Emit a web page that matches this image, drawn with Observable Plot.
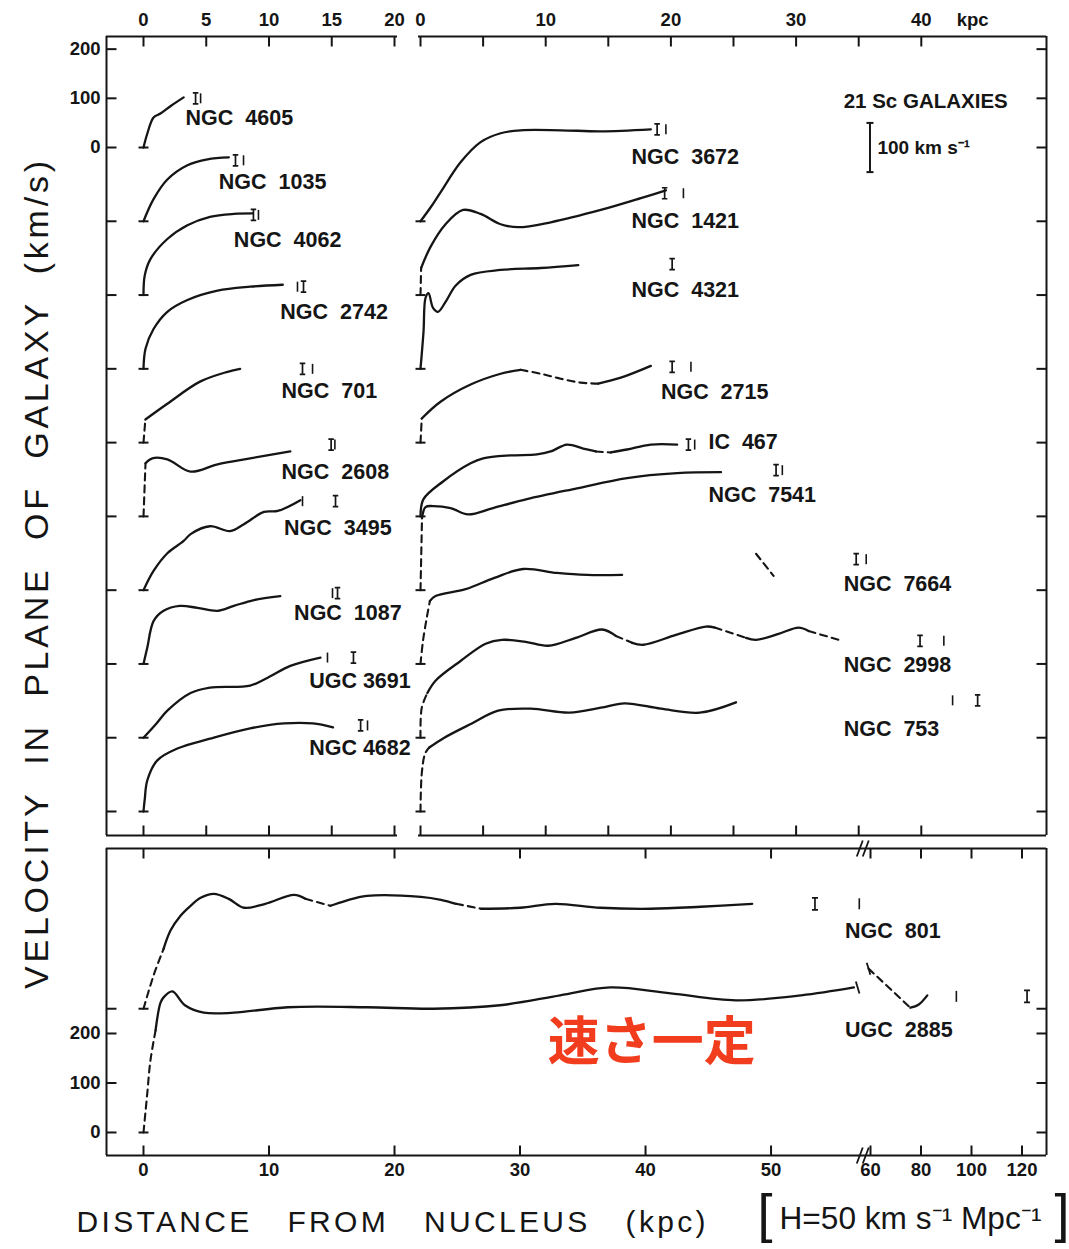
<!DOCTYPE html>
<html><head><meta charset="utf-8">
<script src="https://cdn.jsdelivr.net/npm/d3@7"></script>
<script src="https://cdn.jsdelivr.net/npm/@observablehq/plot@0.6"></script>
<style>
html,body{margin:0;padding:0;background:#fff;}
#fig{position:relative;width:1069px;height:1249px;overflow:hidden;background:#fff;}
#fig svg{position:absolute !important;left:0;top:0;background:transparent !important;overflow:visible;max-width:none !important;}
</style></head><body><div id="fig"></div>
<script>
// ================= DATA =================
// Top panels: each rotation curve is drawn from its own zero line; zero lines are 150 km/s apart.
const leftNames  = ["NGC  4605","NGC  1035","NGC  4062","NGC  2742","NGC  701","NGC  2608","NGC  3495","NGC  1087","UGC 3691","NGC 4682"];
const leftZero   = [0,-150,-300,-450,-600,-750,-900,-1050,-1200,-1350];
const rightNames = ["NGC  3672","NGC  1421","NGC  4321","NGC  2715","IC  467","NGC  7541","NGC  7664","NGC  2998","NGC  753"];
const rightZero  = [-150,-300,-450,-600,-750,-900,-1050,-1200,-1350];

// rotation curves [radius kpc, velocity km/s]
const ngc4605 = [[0,0],[0.3,28],[0.8,61],[1.35,69],[2.2,85],[3.2,102]];
const ngc1035 = [[0,0],[0.8,45],[1.9,85],[3.5,114],[5.1,126],[6.8,130]];
const ngc4062 = [[0,0],[0.1,40],[0.55,73],[1.9,114],[3.5,142],[5.3,159],[7.2,165],[8.7,166]];
const ngc2742 = [[0,0],[0.16,41],[0.8,81],[1.9,116],[3.5,140],[5.9,159],[8.5,167],[11.1,171]];
const ngc701  = [[0,0],[0.15,47],[1.9,79],[4.5,124],[6.7,144],[7.7,150]];
const ngc2608 = [[0,0],[0.16,108],[0.7,118],[1.9,116],[3.75,91],[5.9,106],[8.5,118],[11.7,132]];
const ngc3495 = [[0,0],[0.8,39],[1.9,75],[3.2,100],[3.75,114],[5.3,130],[6.9,120],[8.0,134],[9.6,159],[10.7,161],[12.5,183]];
const ngc1087 = [[0,0],[0.3,33],[0.8,87],[1.6,108],[2.9,118],[4.3,114],[5.9,108],[7.2,118],[8.8,130],[10.9,138]];
const ugc3691 = [[0,0],[1.0,28],[1.9,55],[3.75,91],[5.3,102],[8.5,106],[9.9,122],[11.7,146],[14.1,163]];
const ngc4682 = [[0,0],[0.1,25],[0.3,63],[1.1,104],[2.7,128],[5.3,148],[8.5,169],[11.2,179],[13.5,179],[15.1,171]];

const ngc3672 = [[0,0],[0.8,28],[1.6,59],[3.2,120],[4.8,161],[6.4,179],[8.0,185],[11.2,185],[14.4,183],[18.4,187]];
const ngc1421 = [[0,0],[0.05,55],[0.8,98],[2.0,144],[3.4,173],[4.8,165],[6.4,144],[7.8,138],[10.4,148],[14.4,173],[17.6,197],[19.6,213]];
const ngc4321 = [[0,0],[0.24,75],[0.4,144],[0.64,154],[1.0,124],[1.4,116],[2.0,136],[2.8,169],[4.0,191],[6.4,201],[9.6,205],[12.6,211]];
const ngc2715 = [[0,0],[0.1,49],[1.6,83],[4.0,118],[6.4,140],[8.0,148],[9.6,140],[11.2,130],[12.8,122],[14.2,120],[16.0,132],[18.4,156]];
const ic467   = [[0,0],[0.24,35],[1.8,71],[4.0,108],[5.0,118],[7.2,124],[9.3,126],[10.4,132],[11.7,146],[13.0,138],[14.0,132],[15.2,130],[16.5,136],[18.4,146],[20.5,146]];
const ngc7541 = [[0,0],[0.12,146],[0.4,169],[1.0,171],[2.4,167],[3.8,154],[5.8,167],[8.5,185],[12.5,207],[16.5,228],[20.5,238],[24.0,240]];
const ngc7664 = [[0,0],[0.2,47],[0.5,94],[0.75,128],[1.2,138],[3.6,152],[5.9,175],[8.2,193],[10.9,185],[13.3,181],[16.1,181]];
const ngc7664Outer = [[26.8,224],[28.2,179]];
const ngc2998 = [[0,0],[0.1,61],[0.55,91],[1.2,116],[3.2,156],[5.2,191],[6.5,199],[8.4,195],[10.2,187],[12.4,203],[14.5,220],[15.6,207],[16.9,193],[17.8,189],[20.4,209],[22.8,226],[23.5,224],[26.0,203],[26.8,199],[28.6,211],[30.2,224],[31.0,217],[33.4,199]];
const ngc753  = [[0,0],[0.1,77],[0.37,118],[0.7,130],[1.9,150],[4.1,179],[6.2,205],[8.8,209],[11.9,201],[14.4,211],[16.3,220],[19.2,209],[22.3,201],[25.2,222]];

// uncertain (dashed) radius ranges
const leftDashed  = [[],[],[],[],[[0,0.15]],[[0,0.16]],[],[],[],[]];
const rightDashed = [[],[[0,0.05]],[],[[0,0.1],[8.0,14.2]],[[14.0,15.2]],[[0,0.12]],[[0,0.75]],[[0,0.55],[15.6,16.9],[23.5,26.0],[31.0,33.4]],[[0,0.7]]];

// radius markers (serif I and plain bar) [kpc] and their velocity [km/s]
const leftIr    = [4.15,7.33,8.76,12.75,12.67,14.95,15.3,15.46,16.73,17.3];
const leftBarR  = [4.55,7.97,9.16,12.27,13.47,15.25,12.67,15.06,14.66,17.85];
const leftMarkV = [100,124,163,167,150,146,181,144,163,175];
const rightIr    = [18.9,19.5,20.1,20.1,21.4,28.4,34.8,39.9,44.5];
const rightBarR  = [19.6,21.0,null,21.6,21.9,28.9,35.6,41.8,42.5];
const rightMarkV = [187,207,213,154,146,244,213,197,226];

// name label anchors (kpc, km/s above own zero)
const leftLabelR  = [3.35,6.0,7.2,10.9,11.0,11.0,11.2,12.0,13.2,13.2];
const leftLabelV  = [59,79,112,116,104,91,126,104,116,128];
const rightLabelR = [16.85,16.85,16.85,19.2,23.0,23.0,33.8,33.8,33.8];
const rightLabelV = [130,150,161,102,152,193,163,148,167];

// bottom panel (two large galaxies), broken radius axis
const bottomNames = ["NGC  801","UGC  2885"];
const bottomZero  = [250,0];
const ngc801  = [[0,0],[0.8,67],[1.6,121],[2.15,158],[2.95,188],[3.75,208],[4.55,224],[5.6,232],[6.8,222],[8.0,204],[9.7,212],[12.0,230],[12.9,222],[14.9,208],[16.1,218],[17.8,228],[22.1,226],[23.7,220],[24.9,212],[26.9,202],[30.0,204],[32.8,212],[36.4,204],[40.4,202],[44.4,206],[48.5,212]];
const ugc2885 = [[0,0],[0.3,79],[0.55,145],[0.96,206],[1.35,262],[1.6,273],[2.3,285],[3.3,257],[4.8,242],[7.2,242],[11.5,253],[17.8,253],[23.1,250],[28.4,257],[33.2,277],[37.2,293],[42.0,281],[47.2,267],[52.4,277],[56.6,293]];
const ugc2885Outer = [[59.5,331],[75.8,252],[79.0,258],[82.5,277]];
const bottomDashed = [[[0,1.6],[12.9,14.9],[24.9,26.9]],[[0,0.96]]];
const ugc2885OuterDashed = [[59.5,75.8]];
const bottomIr = [53.5,122];
const bottomBarR = [57.1,94];
const bottomMarkV = [212,275];
const bottomLabelR = [55.9,55.9];
const bottomLabelV = [156,206];
const breakCaps = [[56.9,293],[59.5,331]];

// axis ticks
const topLeftTicks = [0,5,10,15,20];
const topRightTicks = [0,5,10,15,20,25,30,35,40];
const topRightLabels = [0,10,20,30,40];
const velTicks = [200,100,0,-150,-300,-450,-600,-750,-900,-1050,-1200,-1350];
const velLabels = [200,100,0];
const bottomTicksX = [0,10,20,30,40,50,60,80,100,120];
const bottomTicksY = [0,100,200,250];
const bottomLabelsY = [0,100,200];
const scaleBarR = 35.9, scaleBarV = [-50,50];

// ================= DRAWING =================
const ink = "#151515";
const sans = "'Liberation Sans', Arial, Helvetica, sans-serif";
const mk = f => ({draw(c, s){ f(c, Math.sqrt(s/Math.PI)); }});
const symTickDown  = mk((c,l)=>{c.moveTo(0,0);c.lineTo(0,l);});
const symTickUp    = mk((c,l)=>{c.moveTo(0,0);c.lineTo(0,-l);});
const symTickRight = mk((c,l)=>{c.moveTo(0,0);c.lineTo(l,0);});
const symTickLeft  = mk((c,l)=>{c.moveTo(0,0);c.lineTo(-l,0);});
const symBase = mk((c,l)=>{c.moveTo(-l,0);c.lineTo(l,0);});
const symI = mk((c,l)=>{const w=l*0.5;c.moveTo(0,-l);c.lineTo(0,l);c.moveTo(-w,-l);c.lineTo(w,-l);c.moveTo(-w,l);c.lineTo(w,l);});
const symBar = mk((c,l)=>{c.moveTo(0,-l);c.lineTo(0,l);});
const symBreak = mk((c,l)=>{for(const o of [-3,3]){c.moveTo(o-3,l);c.lineTo(o+3,-l);}});
const symCap = mk((c,l)=>{c.moveTo(-l*0.3,-l);c.lineTo(l*0.3,l);});

function buildRows(name, pts, dashed, zero){
  const rows=[]; let piece=0, cur=null;
  const isD=(a,b)=>dashed.some(([lo,hi])=>a>=lo&&b<=hi);
  for(let i=0;i<pts.length-1;i++){
    const d=isD(pts[i][0],pts[i+1][0]);
    if(cur===null||d!==cur){piece++;cur=d;rows.push({key:name+"#"+piece,dashed:d,r:pts[i][0],y:pts[i][1]+zero});}
    rows.push({key:name+"#"+piece,dashed:d,r:pts[i+1][0],y:pts[i+1][1]+zero});
  }
  return rows;
}
const curveMarks = rows => [
  Plot.line(rows.filter(d=>!d.dashed),{x:"r",y:"y",z:"key",curve:"catmull-rom",stroke:ink,strokeWidth:2.3}),
  Plot.line(rows.filter(d=>d.dashed),{x:"r",y:"y",z:"key",curve:"catmull-rom",stroke:ink,strokeWidth:2.1,strokeDasharray:"7 5"})
];
const dotStyle = {stroke:ink, fill:"none"};
const numFont = {fontSize:18.5, fontWeight:"bold", fontFamily:sans, fill:ink};
const labFont = {fontSize:21.5, fontWeight:"bold", fontFamily:sans, fill:ink, textAnchor:"start"};

// ---- top panels shared vertical scale
const yTop = [-1398.8, 225.7];
const xA = [-2.948, 20.239];
const xB = [-0.16, 50];

const leftCurves = [ngc4605,ngc1035,ngc4062,ngc2742,ngc701,ngc2608,ngc3495,ngc1087,ugc3691,ngc4682];
const rightCurves = [ngc3672,ngc1421,ngc4321,ngc2715,ic467,ngc7541,ngc7664,ngc2998,ngc753];
const leftRows = leftCurves.flatMap((p,i)=>buildRows(leftNames[i],p,leftDashed[i],leftZero[i]));
const rightRows = rightCurves.flatMap((p,i)=>buildRows(rightNames[i],p,rightDashed[i],rightZero[i]))
  .concat(buildRows("NGC 7664 outer", ngc7664Outer, [[26.8,28.2]], rightZero[6]));

const yTitle = "VELOCITY  IN  PLANE  OF  GALAXY  (km/s)";
const xTitle = "DISTANCE   FROM   NUCLEUS   (kpc)";
const hTitle = "H=50 km s⁻¹ Mpc⁻¹";

const plotA = Plot.plot({
  width:1069, height:1249, marginLeft:106, marginRight:672, marginTop:36, marginBottom:414,
  x:{domain:xA, axis:null}, y:{domain:yTop, axis:null},
  marks:[
    Plot.ruleX([xA[0]],{stroke:ink,strokeWidth:2}),
    Plot.ruleY([yTop[0],yTop[1]],{stroke:ink,strokeWidth:2}),
    Plot.dot(topLeftTicks,{x:d=>d,y:()=>yTop[1],symbol:symTickDown,r:10,strokeWidth:2,...dotStyle}),
    Plot.dot(topLeftTicks,{x:d=>d,y:()=>yTop[0],symbol:symTickUp,r:10,strokeWidth:2,...dotStyle}),
    Plot.dot(velTicks,{x:()=>xA[0],y:d=>d,symbol:symTickRight,r:10,strokeWidth:2,...dotStyle}),
    Plot.text(topLeftTicks,{x:d=>d,y:()=>yTop[1],dy:-16,text:d=>String(d),...numFont}),
    Plot.text(velLabels,{x:()=>xA[0],y:d=>d,dx:-6,textAnchor:"end",text:d=>String(d),...numFont}),
    ...curveMarks(leftRows),
    Plot.dot(leftZero,{x:()=>0,y:d=>d,symbol:symBase,r:5,strokeWidth:2,...dotStyle}),
    Plot.dot(leftNames,{x:(d,i)=>leftIr[i],y:(d,i)=>leftMarkV[i]+leftZero[i],symbol:symI,r:5.5,strokeWidth:1.7,...dotStyle}),
    Plot.dot(leftNames,{x:(d,i)=>leftBarR[i],y:(d,i)=>leftMarkV[i]+leftZero[i],symbol:symBar,r:5,strokeWidth:1.6,...dotStyle}),
    Plot.text(leftNames,{x:(d,i)=>leftLabelR[i],y:(d,i)=>leftLabelV[i]+leftZero[i],text:d=>d,...labFont}),
    Plot.text([yTitle],{frameAnchor:"left",dx:-69,dy:553,rotate:-90,textAnchor:"start",text:d=>d,fontSize:34,fontFamily:sans,fill:ink})
  ]
});

const plotB = Plot.plot({
  width:1069, height:1249, marginLeft:418, marginRight:23, marginTop:36, marginBottom:414,
  x:{domain:xB, axis:null}, y:{domain:yTop, axis:null},
  marks:[
    Plot.ruleX([xB[1]],{stroke:ink,strokeWidth:2}),
    Plot.ruleY([yTop[0],yTop[1]],{stroke:ink,strokeWidth:2}),
    Plot.dot(topRightTicks,{x:d=>d,y:()=>yTop[1],symbol:symTickDown,r:10,strokeWidth:2,...dotStyle}),
    Plot.dot(topRightTicks,{x:d=>d,y:()=>yTop[0],symbol:symTickUp,r:10,strokeWidth:2,...dotStyle}),
    Plot.dot(velTicks,{x:()=>xB[1],y:d=>d,symbol:symTickLeft,r:10,strokeWidth:2,...dotStyle}),
    Plot.text(topRightLabels,{x:d=>d,y:()=>yTop[1],dy:-16,text:d=>String(d),...numFont}),
    Plot.text(["kpc"],{x:()=>44.1,y:()=>yTop[1],dy:-16,text:d=>d,...numFont}),
    ...curveMarks(rightRows),
    Plot.dot(rightZero,{x:()=>0,y:d=>d,symbol:symBase,r:5,strokeWidth:2,...dotStyle}),
    Plot.dot(rightNames,{x:(d,i)=>rightIr[i],y:(d,i)=>rightMarkV[i]+rightZero[i],symbol:symI,r:5.5,strokeWidth:1.7,...dotStyle}),
    Plot.dot(rightNames.filter((d,i)=>rightBarR[i]!=null),{x:d=>rightBarR[rightNames.indexOf(d)],y:d=>rightMarkV[rightNames.indexOf(d)]+rightZero[rightNames.indexOf(d)],symbol:symBar,r:5,strokeWidth:1.6,...dotStyle}),
    Plot.text(rightNames,{x:(d,i)=>rightLabelR[i],y:(d,i)=>rightLabelV[i]+rightZero[i],text:d=>d,...labFont}),
    Plot.text(["21 Sc GALAXIES"],{x:()=>33.8,y:()=>93.5,text:d=>d,...labFont,fontSize:20.5}),
    Plot.ruleX([scaleBarR],{y1:scaleBarV[0],y2:scaleBarV[1],stroke:ink,strokeWidth:2}),
    Plot.dot(scaleBarV,{x:()=>scaleBarR,y:d=>d,symbol:symBase,r:3.5,strokeWidth:2,...dotStyle}),
    Plot.text(["100 km s⁻¹"],{x:()=>36.5,y:()=>0,text:d=>d,...labFont,fontSize:19})
  ]
});

// ---- bottom panel
const xC = {domain:[-2.948,57,60,129.7], range:[106,858.4,870,1046]};
const yC = [-46.5, 573.7];
const bottomRows = [ngc801,ugc2885].flatMap((p,i)=>buildRows(bottomNames[i],p,bottomDashed[i],bottomZero[i]))
  .concat(buildRows("UGC 2885 outer", ugc2885Outer, ugc2885OuterDashed, bottomZero[1]));
const plotC = Plot.plot({
  width:1069, height:1249, marginLeft:106, marginRight:23, marginTop:848, marginBottom:94,
  x:{type:"linear", domain:xC.domain, range:xC.range, axis:null}, y:{domain:yC, axis:null},
  marks:[
    Plot.ruleX([xC.domain[0], xC.domain[3]],{stroke:ink,strokeWidth:2}),
    Plot.ruleY([yC[0],yC[1]],{stroke:ink,strokeWidth:2}),
    Plot.dot(bottomTicksX,{x:d=>d,y:()=>yC[1],symbol:symTickDown,r:10,strokeWidth:2,...dotStyle}),
    Plot.dot(bottomTicksX,{x:d=>d,y:()=>yC[0],symbol:symTickUp,r:10,strokeWidth:2,...dotStyle}),
    Plot.dot(bottomTicksY,{x:()=>xC.domain[0],y:d=>d,symbol:symTickRight,r:10,strokeWidth:2,...dotStyle}),
    Plot.dot(bottomTicksY,{x:()=>xC.domain[3],y:d=>d,symbol:symTickLeft,r:10,strokeWidth:2,...dotStyle}),
    Plot.dot([yC[0],yC[1]],{x:()=>58,y:d=>d,symbol:symBreak,r:8,strokeWidth:1.8,...dotStyle}),
    Plot.text(bottomTicksX,{x:d=>d,y:()=>yC[0],dy:15,text:d=>String(d),...numFont}),
    Plot.text(bottomLabelsY,{x:()=>xC.domain[0],y:d=>d,dx:-6,textAnchor:"end",text:d=>String(d),...numFont}),
    ...curveMarks(bottomRows),
    Plot.dot(bottomZero,{x:()=>0,y:d=>d,symbol:symBase,r:5,strokeWidth:2,...dotStyle}),
    Plot.dot(breakCaps,{x:d=>d[0],y:d=>d[1],symbol:symCap,r:6,strokeWidth:1.8,...dotStyle}),
    Plot.dot(bottomNames,{x:(d,i)=>bottomIr[i],y:(d,i)=>bottomMarkV[i]+bottomZero[i],symbol:symI,r:6,strokeWidth:1.7,...dotStyle}),
    Plot.dot(bottomNames,{x:(d,i)=>bottomBarR[i],y:(d,i)=>bottomMarkV[i]+bottomZero[i],symbol:symBar,r:5.5,strokeWidth:1.6,...dotStyle}),
    Plot.text(bottomNames,{x:(d,i)=>bottomLabelR[i],y:(d,i)=>bottomLabelV[i]+bottomZero[i],text:d=>d,...labFont}),
    Plot.text(["速さ一定"],{x:()=>40.5,y:()=>180,text:d=>d,fontSize:52,fontWeight:"bold",fontFamily:"'Noto Sans CJK JP', sans-serif",fill:"#f23c1e"}),
    Plot.text([xTitle],{frameAnchor:"bottom-left",dx:-30,dy:76,textAnchor:"start",text:d=>d,fontSize:30,fontFamily:sans,fill:ink}),
    Plot.text(["["],{frameAnchor:"bottom-left",dx:651,dy:76,text:d=>d,fontSize:54,fontFamily:sans,fill:ink}),
    Plot.text(["]"],{frameAnchor:"bottom-left",dx:948,dy:76,text:d=>d,fontSize:54,fontFamily:sans,fill:ink}),
    Plot.text([hTitle],{frameAnchor:"bottom-left",dx:673,dy:73,textAnchor:"start",text:d=>d,fontSize:31,fontFamily:sans,fill:ink})
  ]
});

const fig = document.getElementById("fig");
fig.append(plotA, plotB, plotC);
function fitText(svg, str, len, adjust){
  d3.select(svg).selectAll("text").filter(function(){ return this.textContent === str; })
    .attr("textLength", len).attr("lengthAdjust", adjust);
}
fitText(plotA, yTitle, 828, "spacing");
fitText(plotC, xTitle, 629, "spacing");
fitText(plotC, hTitle, 262, "spacingAndGlyphs");
</script></body></html>
